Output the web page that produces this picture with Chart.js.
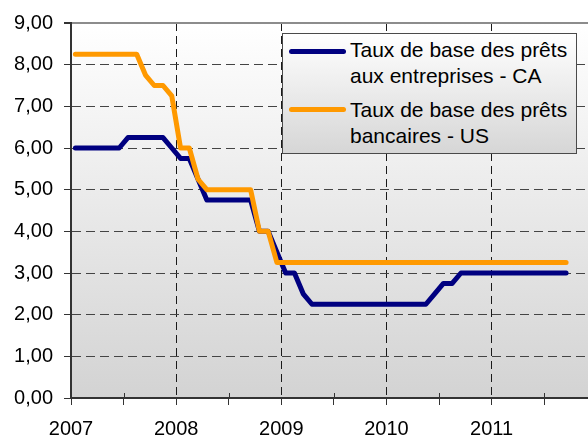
<!DOCTYPE html>
<html>
<head>
<meta charset="utf-8">
<script src="https://cdn.jsdelivr.net/npm/chart.js@4/dist/chart.umd.min.js"></script>
<style>
  html, body { margin: 0; padding: 0; background: #fff; overflow: hidden; }
  #wrap { position: relative; width: 588px; height: 438px; overflow: hidden; }
  #legend {
    position: absolute; left: 282px; top: 33px; width: 293px; height: 119px;
    border: 1px solid #4a4a4a;
    background: linear-gradient(to bottom, #ffffff 0%, #d6d6d6 100%);
    font-family: "Liberation Sans", Arial, sans-serif; font-size: 21px; color: #000;
  }
  .item { position: absolute; left: 67px; line-height: 26px; white-space: nowrap; }
  .sw { position: absolute; left: 6px; width: 57px; height: 5px; border-radius: 3px; }
</style>
</head>
<body>
<div id="wrap">
  <canvas id="c" width="588" height="438"></canvas>
  <div id="legend"></div>
</div>
<script>
// Months (month-end values), Jan 2007 .. Sep 2011
const months = [
  '2007-01','2007-02','2007-03','2007-04','2007-05','2007-06','2007-07','2007-08','2007-09','2007-10','2007-11','2007-12',
  '2008-01','2008-02','2008-03','2008-04','2008-05','2008-06','2008-07','2008-08','2008-09','2008-10','2008-11','2008-12',
  '2009-01','2009-02','2009-03','2009-04','2009-05','2009-06','2009-07','2009-08','2009-09','2009-10','2009-11','2009-12',
  '2010-01','2010-02','2010-03','2010-04','2010-05','2010-06','2010-07','2010-08','2010-09','2010-10','2010-11','2010-12',
  '2011-01','2011-02','2011-03','2011-04','2011-05','2011-06','2011-07','2011-08','2011-09'
];
const caRate = [
  6.00,6.00,6.00,6.00,6.00,6.00,6.25,6.25,6.25,6.25,6.25,6.00,
  5.75,5.75,5.25,4.75,4.75,4.75,4.75,4.75,4.75,4.00,4.00,3.50,
  3.00,3.00,2.50,2.25,2.25,2.25,2.25,2.25,2.25,2.25,2.25,2.25,
  2.25,2.25,2.25,2.25,2.25,2.50,2.75,2.75,3.00,3.00,3.00,3.00,
  3.00,3.00,3.00,3.00,3.00,3.00,3.00,3.00,3.00
];
const usRate = [
  8.25,8.25,8.25,8.25,8.25,8.25,8.25,8.25,7.75,7.50,7.50,7.25,
  6.00,6.00,5.25,5.00,5.00,5.00,5.00,5.00,5.00,4.00,4.00,3.25,
  3.25,3.25,3.25,3.25,3.25,3.25,3.25,3.25,3.25,3.25,3.25,3.25,
  3.25,3.25,3.25,3.25,3.25,3.25,3.25,3.25,3.25,3.25,3.25,3.25,
  3.25,3.25,3.25,3.25,3.25,3.25,3.25,3.25,3.25
];
const seriesNames = [
  ['Taux de base des prêts', 'aux entreprises - CA'],
  ['Taux de base des prêts', 'bancaires - US']
];
const seriesColors = ['#000080', '#FF9900'];
const yearLabels = ['2007','2008','2009','2010','2011'];
const firstYear = 2007;

function monthPos(m) {
  const [y, mo] = m.split('-').map(Number);
  return (y - firstYear) * 12 + (mo - 1) + 0.5;
}
const toPoints = vals => vals.map((v, i) => ({ x: monthPos(months[i]), y: v }));

const bgPlugin = {
  id: 'bg',
  beforeDraw(chart) {
    const { ctx, chartArea: a } = chart;
    const g = ctx.createLinearGradient(0, a.top, 0, a.bottom);
    g.addColorStop(0, '#ffffff');
    g.addColorStop(1, '#d3d3d3');
    ctx.save();
    ctx.fillStyle = g;
    ctx.fillRect(a.left, a.top, a.right - a.left, a.bottom - a.top);
    ctx.restore();
  },
  afterDatasetsDraw(chart) {
    // minor (half-year) ticks crossing into the plot
    const { ctx, chartArea: a, scales: { x } } = chart;
    ctx.save();
    ctx.strokeStyle = '#333';
    ctx.lineWidth = 1;
    for (let v = 6; v <= x.max; v += 12) {
      const px = Math.round(x.getPixelForValue(v)) + 0.5;
      ctx.beginPath();
      ctx.moveTo(px, a.bottom - 5);
      ctx.lineTo(px, a.bottom);
      ctx.stroke();
    }
    ctx.restore();
  }
};

const font = { family: '"Liberation Sans", Arial, sans-serif', size: 20 };

new Chart(document.getElementById('c'), {
  type: 'line',
  data: {
    datasets: [
      { label: seriesNames[0].join(' '), data: toPoints(caRate), borderColor: seriesColors[0], order: 1 },
      { label: seriesNames[1].join(' '), data: toPoints(usRate), borderColor: seriesColors[1], order: 0 }
    ].map(d => Object.assign(d, {
      borderWidth: 5, pointRadius: 0, tension: 0, fill: false,
      borderCapStyle: 'round', borderJoinStyle: 'round'
    }))
  },
  options: {
    responsive: false,
    animation: false,
    devicePixelRatio: 1,
    layout: { padding: { top: 21, right: 0, left: 0, bottom: 0 } },
    plugins: { legend: { display: false }, tooltip: { enabled: false } },
    scales: {
      x: {
        type: 'linear', min: 0, max: 59,
        afterFit(s) { s.height = 40; },
        ticks: {
          stepSize: 6, autoSkip: false, includeBounds: false, maxRotation: 0,
          color: '#000', font, padding: 12,
          callback: v => (v % 12 === 0 ? yearLabels[v / 12] : '')
        },
        grid: {
          color: c => (c.tick && c.tick.value % 12 === 0 ? '#1a1a1a' : 'rgba(0,0,0,0)'),
          tickColor: '#333', tickLength: 7, lineWidth: 1
        },
        border: { display: true, color: '#333', width: 2, dash: [8, 5] }
      },
      y: {
        min: 0, max: 9,
        afterFit(s) { s.width = 71; },
        ticks: {
          stepSize: 1, color: '#000', font, padding: 11,
          callback: v => v.toFixed(2).replace('.', ',')
        },
        grid: {
          color: c => (c.tick && c.tick.value === 9 ? '#8c8c8c' : '#444'),
          lineWidth: c => (c.tick && c.tick.value === 9 ? 2 : 1),
          tickColor: '#333', tickLength: 7
        },
        border: { display: true, color: '#333', width: 2,
          dash: c => (c.tick && c.tick.value === 9 ? [] : [9, 5]) }
      }
    }
  },
  plugins: [bgPlugin]
});

// legend
const lg = document.getElementById('legend');
const tops = [3, 63];
const swY = [15, 73];
seriesNames.forEach((lines, i) => {
  const sw = document.createElement('div');
  sw.className = 'sw';
  sw.style.top = swY[i] + 'px';
  sw.style.background = seriesColors[i];
  lg.appendChild(sw);
  const t = document.createElement('div');
  t.className = 'item';
  t.style.top = tops[i] + 'px';
  t.innerHTML = lines.join('<br>');
  lg.appendChild(t);
});
</script>
</body>
</html>
